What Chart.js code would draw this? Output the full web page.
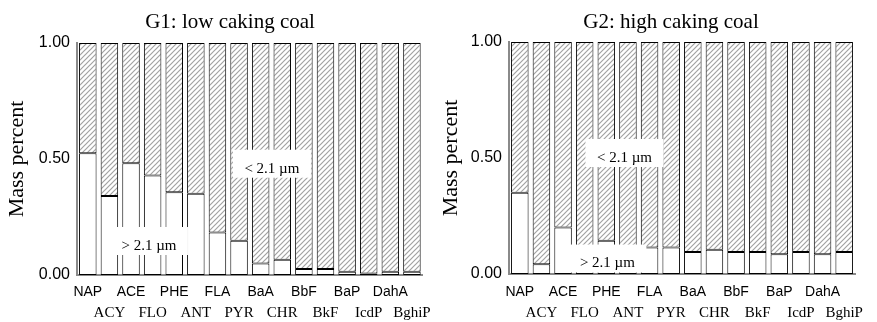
<!DOCTYPE html>
<html>
<head>
<meta charset="utf-8">
<script src="https://cdn.jsdelivr.net/npm/chart.js@4.4.1/dist/chart.umd.min.js"></script>
<style>
  html, body { margin: 0; padding: 0; background: #fff; }
  .panel { position: absolute; top: 0; height: 322px; }
  #p1 { left: 0; width: 438px; }
  #p2 { left: 438px; width: 439px; }
</style>
</head>
<body>
<div class="panel" id="p1"><canvas id="g1"></canvas></div>
<div class="panel" id="p2"><canvas id="g2"></canvas></div>
<script>
// ---- data --------------------------------------------------
const PAHS = ['NAP', 'ACY', 'ACE', 'FLO', 'PHE', 'ANT', 'FLA', 'PYR',
              'BaA', 'CHR', 'BbF', 'BkF', 'BaP', 'IcdP', 'DahA', 'BghiP'];

// mass fraction on particles > 2.1 µm (white) and < 2.1 µm (hatched)
const G1_COARSE = [0.525, 0.341, 0.482, 0.429, 0.357, 0.350, 0.183, 0.148,
                   0.050, 0.066, 0.026, 0.026, 0.014, 0.007, 0.014, 0.014];
const G1_FINE   = [0.475, 0.659, 0.518, 0.571, 0.643, 0.650, 0.817, 0.852,
                   0.950, 0.934, 0.974, 0.974, 0.986, 0.993, 0.986, 0.986];

const G2_COARSE = [0.350, 0.042, 0.200, 0.110, 0.143, 0.110, 0.114, 0.114,
                   0.095, 0.104, 0.095, 0.095, 0.085, 0.095, 0.085, 0.095];
const G2_FINE   = [0.650, 0.958, 0.800, 0.890, 0.857, 0.890, 0.886, 0.886,
                   0.905, 0.896, 0.905, 0.905, 0.915, 0.905, 0.915, 0.905];

const Y_TICKS = [0, 0.5, 1];

const SANS  = "'Liberation Sans', Arial, sans-serif";
const SERIF = "'Liberation Serif', 'Times New Roman', serif";

// ---- hatch fill for the fine fraction ----------------------
function hatch() {
  const c = document.createElement('canvas');
  c.width = c.height = 5;
  const x = c.getContext('2d');
  x.fillStyle = '#fff';
  x.fillRect(0, 0, 5, 5);
  x.strokeStyle = '#a2a2a2';
  x.lineWidth = 1.2;
  x.beginPath();
  x.moveTo(-1, 6); x.lineTo(6, -1);
  x.moveTo(-1, 1); x.lineTo(1, -1);
  x.moveTo(4, 6);  x.lineTo(6, 4);
  x.stroke();
  return x.createPattern(c, 'repeat');
}

// panel title + white label boxes
const overlay = {
  id: 'overlay',
  afterDatasetsDraw(chart, args, o) {
    const { ctx, scales: { x, y } } = chart;
    ctx.save();
    ctx.font = `15px ${SERIF}`;
    ctx.textAlign = 'center';
    ctx.textBaseline = 'middle';
    o.notes.forEach(n => {
      const px = x.getPixelForValue(n.x), py = y.getPixelForValue(n.y);
      ctx.fillStyle = '#fff';
      ctx.fillRect(px - 39, py - 19, 78, 28);
      ctx.fillStyle = '#000';
      ctx.fillText(n.text, px, py);
    });
    ctx.font = `21px ${SERIF}`;
    ctx.textBaseline = 'alphabetic';
    ctx.fillText(o.title, o.titleX, 28);
    ctx.restore();
  }
};

function makeChart(id, coarse, fine, cfg) {
  const fill = hatch();
  return new Chart(document.getElementById(id), {
    type: 'bar',
    data: {
      labels: PAHS,
      datasets: [
        { label: '> 2.1 µm', data: coarse, backgroundColor: '#fff',
          borderColor: '#000', borderWidth: 1, borderSkipped: false,
          barPercentage: 0.81, categoryPercentage: 1 },
        { label: '< 2.1 µm', data: fine, backgroundColor: fill,
          borderColor: '#000', borderWidth: 1, borderSkipped: false,
          barPercentage: 0.81, categoryPercentage: 1 },
      ],
    },
    options: {
      responsive: true,
      maintainAspectRatio: false,
      animation: false,
      layout: { padding: { top: cfg.top, right: cfg.right, bottom: 0, left: 0 } },
      plugins: {
        legend: { display: false },
        tooltip: { enabled: false },
        overlay: { title: cfg.title, titleX: cfg.titleX, notes: cfg.notes },
      },
      scales: {
        x: {
          stacked: true,
          grid: { display: false, drawTicks: false },
          border: { display: true, color: '#8a8a8a', width: 2 },
          afterFit: s => { s.height = cfg.axisH; },
          ticks: {
            autoSkip: false, maxRotation: 0, minRotation: 0,
            padding: cfg.xPad, color: '#000',
            callback: (v, i) => i % 2 ? ['', PAHS[i]] : [PAHS[i], ''],
            font: c => c.index % 2
              ? { family: SERIF, size: 15, lineHeight: '21px' }
              : { family: SANS, size: 14, lineHeight: '21px' },
          },
        },
        y: {
          stacked: true,
          min: 0, max: 1,
          grid: { display: false, drawTicks: false },
          border: { display: true, color: '#8a8a8a', width: 2 },
          afterFit: s => { s.width = cfg.axisW; },
          afterBuildTicks: s => { s.ticks = Y_TICKS.map(v => ({ value: v })); },
          ticks: {
            padding: 7, color: '#000',
            font: { family: SANS, size: 16 },
            callback: v => v.toFixed(2),
          },
          title: {
            display: true, text: 'Mass percent', color: '#000',
            font: { family: SERIF, size: 22 },
            padding: { top: cfg.yTitlePad, bottom: 0 },
          },
        },
      },
    },
    plugins: [overlay],
  });
}

makeChart('g1', G1_COARSE, G1_FINE, {
  top: 43, right: 10, axisW: 77, axisH: 47, xPad: 7, yTitlePad: 4,
  title: 'G1: low caking coal', titleX: 230,
  notes: [
    { text: '< 2.1 µm', x: 8.52, y: 0.458 },
    { text: '> 2.1 µm', x: 2.83, y: 0.125 },
  ],
});

makeChart('g2', G2_COARSE, G2_FINE, {
  top: 42, right: 22, axisW: 71, axisH: 48, xPad: 8, yTitlePad: 0,
  title: 'G2: high caking coal', titleX: 233,
  notes: [
    { text: '< 2.1 µm', x: 4.84, y: 0.50 },
    { text: '> 2.1 µm', x: 4.05, y: 0.045 },
  ],
});
</script>
</body>
</html>
